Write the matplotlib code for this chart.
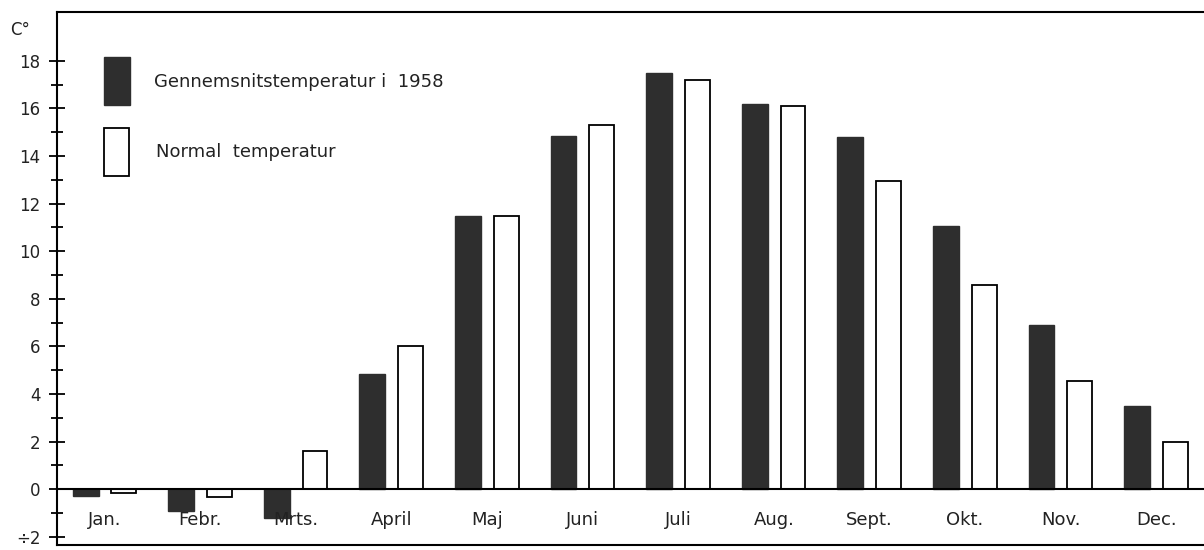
import numpy as np
import matplotlib
matplotlib.use("Agg")
import matplotlib.pyplot as plt
from matplotlib.patches import Rectangle
from matplotlib.ticker import FixedLocator

months = ["Jan.", "Febr.", "Mrts.", "April", "Maj", "Juni",
          "Juli", "Aug.", "Sept.", "Okt.", "Nov.", "Dec."]
temp_1958 = [-0.3, -0.9, -1.2, 4.85, 11.5, 14.85, 17.5, 16.2, 14.8, 11.05, 6.9, 3.5]
temp_normal = [-0.15, -0.35, 1.6, 6.0, 11.5, 15.3, 17.2, 16.1, 12.95, 8.6, 4.55, 2.0]
y_ticks = [-2, 0, 2, 4, 6, 8, 10, 12, 14, 16, 18]
y_labels = ["÷2", "0", "2", "4", "6", "8", "10", "12", "14", "16", "18"]
y_minor = [-1, 1, 3, 5, 7, 9, 11, 13, 15, 17]

plt.rcParams['font.family'] = ['DejaVu Sans']
dark = "#2e2e2e"

fig = plt.figure(figsize=(12.04, 5.5), dpi=100)
ax = fig.add_axes([0.0473, 0.009, 0.9527, 0.969])

x = np.arange(len(months))
ax.bar(x - 0.2, temp_1958, width=0.27, color=dark, edgecolor=dark, linewidth=1, zorder=2)
ax.bar(x + 0.2, temp_normal, width=0.26, color="white", edgecolor="black", linewidth=1.3, zorder=2)

ax.axhline(0, color="black", linewidth=1.5, zorder=3)
ax.set_xlim(-0.5, 11.5)
ax.set_ylim(-2.35, 20.05)

# month names sit just under the zero line
for i, m in enumerate(months):
    ax.text(x[i], -1.3, m, ha="center", va="center", fontsize=13, color="#222222")

ax.set_xticks([])
ax.yaxis.set_major_locator(FixedLocator(y_ticks))
ax.set_yticklabels(y_labels, fontsize=12, color="#222222")
ax.yaxis.set_minor_locator(FixedLocator(y_minor))
ax.tick_params(axis="y", which="major", direction="inout", length=12, width=1.3, pad=6)
ax.tick_params(axis="y", which="minor", direction="inout", length=8, width=1.3)

for s in ["left", "top", "bottom"]:
    ax.spines[s].set_linewidth(1.5)
ax.spines["right"].set_visible(False)

fig.text(0.008, 0.945, "C°", fontsize=12, color="#222222", va="center")

# legend boxes
ax.add_patch(Rectangle((0.0409, 0.825), 0.0225, 0.09, transform=ax.transAxes,
                       facecolor=dark, edgecolor=dark, clip_on=False))
ax.add_patch(Rectangle((0.0409, 0.693), 0.0218, 0.09, transform=ax.transAxes,
                       facecolor="white", edgecolor="black", linewidth=1.3, clip_on=False))
ax.text(0.0845, 0.868, "Gennemsnitstemperatur i  1958", transform=ax.transAxes,
        fontsize=13, va="center", color="#222222")
ax.text(0.086, 0.738, "Normal  temperatur", transform=ax.transAxes,
        fontsize=13, va="center", color="#222222")

fig.savefig("out.png", dpi=100)
